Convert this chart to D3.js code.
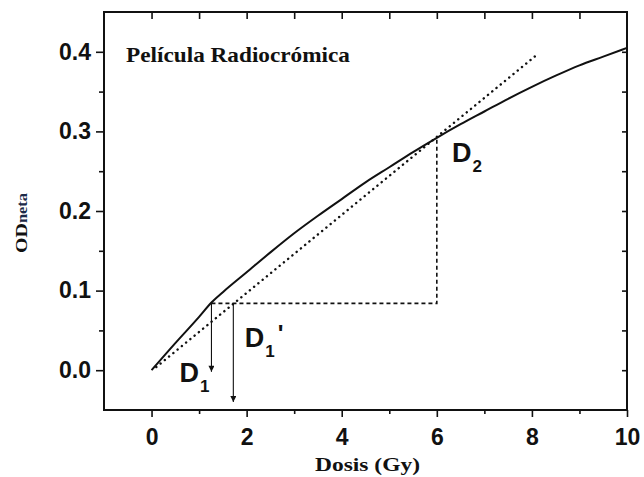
<!DOCTYPE html>
<html>
<head>
<meta charset="utf-8">
<script src="https://cdn.jsdelivr.net/npm/d3@7"></script>
<style>
  html, body { margin: 0; padding: 0; background: #fff; }
  svg { display: block; }
</style>
</head>
<body>
<svg id="chart" width="644" height="477"></svg>
<script>
// ---- data ----
const doseCurve = [0, 0.5, 1.0, 1.26, 1.5, 2.0, 2.5, 3.0, 3.5, 4.0, 4.5, 5.0, 5.5, 6.0, 6.5, 7.0, 7.5, 8.0, 8.5, 9.0, 9.5, 10];
const odCurve   = [0, 0.034, 0.067, 0.085, 0.098, 0.123, 0.148, 0.172, 0.194, 0.215, 0.236, 0.255, 0.274, 0.292, 0.309, 0.325, 0.341, 0.356, 0.370, 0.383, 0.394, 0.405];
const fitDose = [0.1, 8.12];
const fitOD   = [0.004, 0.397];
const D1 = 1.26, D1p = 1.72, D2 = 6.0;
const odLevel = 0.084, odD2 = 0.292;
const arrowEndD1 = -0.002, arrowEndD1p = -0.04;
const xTickLabels = [0, 2, 4, 6, 8, 10];
const yTickLabels = [0.0, 0.1, 0.2, 0.3, 0.4];
const xMinorTicks = [1, 3, 5, 7, 9];
const yMinorTicks = [0.05, 0.15, 0.25, 0.35];
const topTicks = [0, 1, 2, 3, 4, 5, 6, 7, 8, 9];
const rightTicks = [0.0, 0.05, 0.1, 0.15, 0.2, 0.25, 0.3, 0.35, 0.4];

// ---- layout ----
const svg = d3.select("#chart");
const L = 104, R = 627, T = 12, B = 410;
const x = d3.scaleLinear().domain([-1, 10]).range([L, R]);
const y = d3.scaleLinear().domain([-0.05, 0.45]).range([B, T]);

const tickFont = "'Liberation Sans', Arial, sans-serif";
const serif = "'Liberation Serif', 'Times New Roman', serif";

// bottom axis (major outward)
svg.append("g").attr("transform", `translate(0,${B})`)
  .call(d3.axisBottom(x).tickValues(xTickLabels).tickSize(7).tickPadding(12).tickFormat(d3.format("d")));
svg.append("g").attr("transform", `translate(0,${B})`)
  .call(d3.axisBottom(x).tickValues(xMinorTicks).tickSize(4).tickFormat(""));
// left axis
svg.append("g").attr("transform", `translate(${L},0)`)
  .call(d3.axisLeft(y).tickValues(yTickLabels).tickSize(8).tickPadding(5).tickFormat(d3.format(".1f")));
svg.append("g").attr("transform", `translate(${L},0)`)
  .call(d3.axisLeft(y).tickValues(yMinorTicks).tickSize(5).tickFormat(""));
// top axis (inward)
svg.append("g").attr("transform", `translate(0,${T})`)
  .call(d3.axisTop(x).tickValues(topTicks).tickSize(-7).tickFormat(""));
// right axis (inward)
svg.append("g").attr("transform", `translate(${R},0)`)
  .call(d3.axisRight(y).tickValues(rightTicks).tickSize(-5).tickFormat(""));

svg.selectAll(".domain").remove();
svg.selectAll(".tick line").attr("stroke", "#111").attr("stroke-width", 1.6);
svg.selectAll(".tick text").attr("fill", "#111")
  .style("font-family", tickFont).style("font-weight", "bold").style("font-size", "23px");

// frame
svg.append("rect").attr("x", L).attr("y", T).attr("width", R - L).attr("height", B - T)
  .attr("fill", "none").attr("stroke", "#111").attr("stroke-width", 2);

// main curve
const line = d3.line().x(d => x(d[0])).y(d => y(d[1])).curve(d3.curveMonotoneX);
svg.append("path").datum(doseCurve.map((d, i) => [d, odCurve[i]]))
  .attr("d", line).attr("fill", "none").attr("stroke", "#111").attr("stroke-width", 2);

// dotted linear fit
svg.append("path").datum(fitDose.map((d, i) => [d, fitOD[i]]))
  .attr("d", d3.line().x(d => x(d[0])).y(d => y(d[1])))
  .attr("fill", "none").attr("stroke", "#111").attr("stroke-width", 2.4)
  .attr("stroke-linecap", "round").attr("stroke-dasharray", "0.1 5.4");

// dashed guides
svg.append("path").datum([[D1, odLevel], [D2, odLevel], [D2, odD2]])
  .attr("d", d3.line().x(d => x(d[0])).y(d => y(d[1])))
  .attr("fill", "none").attr("stroke", "#111").attr("stroke-width", 1.6)
  .attr("stroke-dasharray", "4 3");

// arrows
const defs = svg.append("defs");
defs.append("marker").attr("id", "arr").attr("viewBox", "0 0 10 10")
  .attr("refX", 10).attr("refY", 5).attr("markerWidth", 9).attr("markerHeight", 6)
  .attr("markerUnits", "userSpaceOnUse").attr("orient", "auto")
  .append("path").attr("d", "M0,0 L10,5 L0,10 Z").attr("fill", "#111");
[[D1, arrowEndD1], [D1p, arrowEndD1p]].forEach(([d, e]) => {
  svg.append("line").attr("x1", x(d)).attr("x2", x(d))
    .attr("y1", y(odLevel)).attr("y2", y(e))
    .attr("stroke", "#111").attr("stroke-width", 1.1).attr("marker-end", "url(#arr)");
});

// D labels
function dLabel(px, py, sub, prime) {
  const t = svg.append("text").attr("x", px).attr("y", py)
    .style("font-family", tickFont).style("font-weight", "bold").style("font-size", "27px").attr("fill", "#111");
  t.append("tspan").text("D");
  t.append("tspan").attr("dy", 10).attr("dx", 1).style("font-size", "17px").text(sub);
  if (prime) t.append("tspan").attr("dy", -15).attr("dx", 3).style("font-size", "24px").text("'");
}
dLabel(x(0.59), y(-0.015), "1", false);
dLabel(x(1.96), y(0.029), "1", true);
dLabel(x(6.32), y(0.262), "2", false);

// title
svg.append("text").attr("x", 126).attr("y", 62)
  .attr("textLength", 224).attr("lengthAdjust", "spacingAndGlyphs")
  .style("font-family", serif).style("font-weight", "bold").style("font-size", "21px")
  .attr("fill", "#111").text("Película Radiocrómica");

// x label
svg.append("text").attr("x", 315).attr("y", 471)
  .attr("textLength", 105).attr("lengthAdjust", "spacingAndGlyphs")
  .style("font-family", serif).style("font-weight", "bold").style("font-size", "19px")
  .attr("fill", "#111").text("Dosis (Gy)");

// y label
const yl = svg.append("text").attr("transform", "translate(27,253) rotate(-90)")
  .attr("textLength", 60).attr("lengthAdjust", "spacingAndGlyphs")
  .style("font-family", serif).style("font-weight", "bold").attr("fill", "#111");
yl.append("tspan").style("font-size", "17px").text("OD");
yl.append("tspan").style("font-size", "14px").attr("fill", "#1c2a48").text("neta");
</script>
</body>
</html>
